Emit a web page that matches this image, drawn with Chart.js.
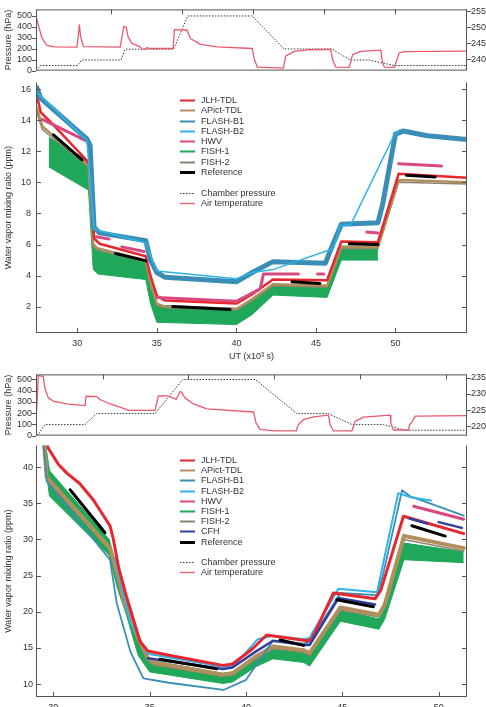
<!DOCTYPE html>
<html>
<head>
<meta charset="utf-8">
<script src="https://cdn.jsdelivr.net/npm/chart.js@4.4.1/dist/chart.umd.min.js"></script>
<style>
  body { margin: 0; background: #fff; width: 486px; height: 707px; overflow: hidden; position: relative; }
  canvas { position: absolute; left: 0; }
</style>
</head>
<body>
<canvas id="p1" width="486" height="80" style="top:0px"></canvas>
<canvas id="m1" width="486" height="300" style="top:72px"></canvas>
<canvas id="p2" width="486" height="80" style="top:365px"></canvas>
<canvas id="m2" width="486" height="270" style="top:437px"></canvas>
<script>
// tick values
const X_TICKS_P1 = [30, 35, 40, 45, 50, 55];
const X_TICKS_P2 = [30, 35, 40, 45, 50];
const UT_TICKS = [30, 35, 40, 45, 50];
const P_TICKS = [0, 100, 200, 300, 400, 500];
const T_TICKS_1 = [240, 245, 250, 255];
const T_TICKS_2 = [220, 225, 230, 235];
const H2O_TICKS_1 = [2, 4, 6, 8, 10, 12, 14, 16];
const H2O_TICKS_2 = [10, 15, 20, 25, 30, 35, 40];

// legend names
const NAMES_1 = ['JLH-TDL', 'APict-TDL', 'FLASH-B1', 'FLASH-B2', 'HWV', 'FISH-1', 'FISH-2', 'Reference'];
const NAMES_2 = ['JLH-TDL', 'APict-TDL', 'FLASH-B1', 'FLASH-B2', 'HWV', 'FISH-1', 'FISH-2', 'CFH', 'Reference'];
const NAMES_ENV = ['Chamber pressure', 'Air temperature'];

// ---- run 1: chamber conditions [time, value]
const chamberP1 = [[24.7,5],[24.98,46],[27.62,46],[27.93,97],[30.69,97],[30.99,196],[34.41,196],[35.4,500],[39.95,500],[42.19,198],[45.56,198],[46.86,97],[48.2,97],[49.97,46],[55.1,46]];
const airT1 = [[24.7,253.5],[24.85,251],[25.1,246.9],[25.46,244.4],[26.0,243.9],[27.58,243.8],[27.7,248],[27.76,250.8],[27.85,247],[28.05,244],[30.64,243.8],[30.8,248],[30.9,250.3],[31.06,250],[31.2,247],[31.47,245],[32.05,243.9],[32.17,243.1],[32.4,243.1],[32.53,243.7],[32.7,243.4],[34.37,243.4],[34.46,249.3],[35.36,249.1],[35.59,246.5],[36.3,244.7],[37.48,243.9],[39.95,243.4],[40.1,240],[40.31,237.6],[42.15,237.3],[42.31,241],[42.9,242.5],[43.84,243.0],[45.49,243.1],[45.61,240],[45.85,237.6],[46.79,237.5],[47.03,241.5],[47.61,242.5],[49.03,242.9],[49.1,240],[49.26,237.6],[49.97,237.5],[50.32,242.0],[50.68,242.4],[55.1,242.6]];

// ---- run 1: water vapour [UT, ppm]
const ref1 = [[28.5,13.05],[30.3,11.45],[30.3,null],[32.4,5.42],[34.3,4.95],[34.3,null],[36.0,2.02],[39.6,1.82],[39.6,null],[43.5,3.6],[45.25,3.5],[45.25,null],[47.1,6.05],[48.9,6.0],[48.9,null],[50.7,10.45],[52.5,10.35]];
const jlh1 = [[27.45,15.6],[27.7,14.5],[28.3,13.9],[30.6,11.4],[30.8,11.1],[31.05,6.4],[31.4,6.05],[34.3,5.25],[34.6,4.0],[35.0,2.7],[35.5,2.4],[40.0,2.2],[41.0,2.8],[42.3,3.75],[45.7,3.7],[46.6,6.2],[48.9,6.15],[50.2,10.55],[54.5,10.3]];
const apict1 = [[27.45,14.8],[27.8,13.6],[30.7,11.1],[31.0,6.0],[31.3,5.75],[34.3,5.0],[34.6,3.6],[35.0,2.2],[35.5,2.0],[40.0,1.85],[41.0,2.5],[42.3,3.45],[45.7,3.35],[46.6,5.85],[48.9,5.85],[50.2,10.15],[54.5,10.0]];
const flashB1_1 = [[27.45,16.1],[27.7,15.4],[30.6,12.8],[30.8,12.4],[31.05,7.1],[31.4,6.75],[34.3,6.25],[34.6,5.0],[35.0,4.2],[35.5,3.9],[40.0,3.6],[41.0,4.2],[42.3,4.9],[45.6,4.8],[45.9,5.6],[46.6,7.3],[48.9,7.4],[49.2,8.6],[50.0,13.1],[50.5,13.3],[52.0,13.0],[54.5,12.75]];
const flashB2_1 = [[27.45,15.8],[30.6,12.7],[31.05,7.0],[34.3,6.1],[35.0,4.3],[40.0,3.8],[41.0,4.2],[42.35,4.4],[46.1,5.75],[46.5,7.2],[47.2,7.3],[49.9,13.0],[50.3,13.4]];
const hwv1 = [[27.8,14.05],[30.5,12.7],[30.5,null],[31.2,6.5],[32.0,6.35],[32.0,null],[32.8,5.85],[34.2,5.55],[34.2,null],[35.0,2.6],[40.0,2.35],[41.5,3.15],[41.7,4.1],[43.9,4.1],[43.9,null],[45.1,4.1],[45.5,4.1],[45.5,null],[48.2,6.8],[48.9,6.75],[48.9,null],[50.2,11.2],[52.9,11.05]];
const fish1Hi1 = [[28.2,12.9],[30.7,11.4],[31.0,5.8],[31.3,5.6],[34.3,4.8],[34.6,3.2],[35.0,2.1],[40.0,1.9],[41.0,2.4],[42.3,3.45],[45.7,3.35],[46.6,5.9],[48.9,5.9]];
const fish1Lo1 = [[28.2,11.0],[30.7,9.5],[31.0,4.4],[31.3,4.1],[34.3,3.75],[34.6,2.2],[35.0,1.0],[40.0,0.85],[41.0,1.5],[42.3,2.75],[45.7,2.6],[46.6,5.0],[48.9,5.0]];
const fish2_1 = [[27.45,14.5],[27.8,13.4],[30.7,11.0],[31.0,5.9],[31.3,5.65],[34.3,4.9],[34.6,3.5],[35.0,2.1],[35.5,1.95],[40.0,1.8],[41.0,2.4],[42.3,3.35],[45.7,3.25],[46.6,5.75],[48.9,5.75],[50.2,10.0],[54.5,9.9]];

// ---- run 2: chamber conditions
const chamberP2 = [[26.15,0],[26.24,10],[26.63,98],[28.97,98],[29.65,196],[33.05,196],[34.67,500],[38.89,500],[41.32,196],[43.16,196],[44.53,98],[46.37,98],[47.64,48],[51.24,48]];
const airT2 = [[26.15,224.9],[26.24,235.7],[26.53,235.5],[26.63,231.8],[26.83,228.8],[27.12,227.8],[27.9,226.9],[28.97,226.4],[29.03,229.3],[29.65,229.2],[29.84,228.3],[30.43,226.9],[31.01,225.9],[31.5,224.9],[33.05,224.9],[33.24,229.3],[33.7,229.5],[34.12,228.8],[34.28,228.3],[34.51,230.8],[34.6,230.5],[34.8,228.8],[35.29,226.9],[36.07,225.4],[38.79,224.4],[38.94,221],[39.18,219.0],[40.0,218.5],[41.28,218.5],[41.41,220.5],[41.7,222.0],[42.29,222.9],[43.16,223.4],[43.26,220.5],[43.45,218.5],[44.53,218.5],[44.72,221.5],[45.2,222.8],[46.76,223.4],[46.8,221],[46.95,218.8],[47.83,218.8],[47.89,220.5],[48.0,221.0],[48.22,223.1],[51.24,223.3]];

// ---- run 2: water vapour
const ref2 = [[30.87,36.87],[32.68,30.92],[32.68,null],[35.54,13.45],[38.48,12.12],[38.48,null],[41.77,16.12],[42.98,15.36],[42.98,null],[44.71,21.67],[46.61,20.7],[46.61,null],[48.61,31.9],[50.34,30.47]];
const jlh2 = [[29.6,44],[29.74,42.6],[30.26,40.4],[30.69,39.2],[31.38,37.7],[32.08,35.45],[32.94,31.9],[33.11,30.1],[33.4,26.0],[33.8,22.1],[34.5,15.9],[34.9,14.6],[36.0,14.0],[38.8,12.6],[39.3,12.8],[40.3,14.8],[41.07,16.8],[43.15,16.0],[43.4,16.2],[44.54,22.6],[46.7,21.8],[47.0,23.0],[48.17,33.2],[51.3,30.8]];
const apict2 = [[29.5,44],[29.66,38.6],[32.94,28.8],[33.3,25.5],[33.7,21.2],[34.3,17.0],[34.9,13.6],[35.2,13.0],[38.8,11.3],[39.3,11.5],[40.5,13.8],[41.4,15.2],[43.0,14.7],[43.3,14.3],[44.9,20.6],[46.9,19.6],[47.2,21.0],[48.2,30.5],[51.3,28.8]];
const flashB1_2 = [[29.45,44],[29.66,38.0],[32.94,27.2],[33.29,21.2],[34.0,14.5],[34.67,10.8],[36.0,10.2],[38.83,9.2],[40.0,10.6],[41.4,16.0],[43.0,15.6],[43.3,15.8],[44.9,22.6],[46.8,22.3],[47.1,25.0],[48.1,36.8],[48.5,36.0],[51.3,33.3]];
const flashB2_2 = [[33.2,27.5],[34.0,18.5],[34.9,14.2],[38.8,12.4],[39.4,12.6],[40.6,16.2],[41.4,16.7],[43.0,16.2],[43.3,16.4],[44.8,23.2],[46.8,22.7],[47.9,36.4],[48.6,35.8],[49.6,35.4]];
const hwv2 = [[48.7,34.6],[51.3,32.8]];
const fish1Hi2 = [[29.55,44],[29.8,39.5],[32.9,30.0],[33.3,26.0],[33.8,21.5],[34.4,16.5],[35.0,13.3],[38.8,11.5],[39.3,11.7],[40.5,14.0],[41.4,15.0],[43.0,14.5],[43.3,14.0],[44.9,20.3],[46.9,19.0],[47.2,20.5],[48.2,29.5],[51.3,28.3]];
const fish1Lo2 = [[29.55,41],[29.8,36.0],[32.9,27.8],[33.3,23.5],[33.8,19.5],[34.4,14.0],[35.0,11.7],[38.8,10.1],[39.3,10.3],[40.5,12.4],[41.4,13.5],[43.0,13.0],[43.3,12.5],[44.9,18.7],[46.9,17.6],[47.2,19.0],[48.2,27.2],[51.3,26.8]];
const fish2_2 = [[29.5,43.5],[29.66,38.2],[32.94,28.5],[33.3,25.2],[33.7,21.0],[34.3,16.7],[34.9,13.3],[35.2,12.7],[38.8,11.1],[39.3,11.3],[40.5,13.5],[41.4,14.9],[43.0,14.4],[43.3,14.0],[44.9,20.2],[46.9,19.3],[47.2,20.7],[48.2,30.0],[51.3,28.4]];
const cfh2 = [[34.9,13.6],[38.8,12.1],[39.3,12.3],[40.5,14.5],[41.4,16.0],[43.0,15.4],[43.3,15.4],[44.8,21.9],[46.7,21.0],[46.7,null],[48.5,32.9],[49.4,32.2],[49.4,null],[50.0,32.4],[51.2,31.6]];

const C = {
  jlh: '#e8262d', apict: '#b08f5c', b1: '#3a8db4', b2: '#2fb3e8', hwv: '#d9497f',
  fish1: '#1fa85a', fish2: '#8c8373', cfh: '#2f3f9c', ref: '#000000', press: '#333333', temp: '#ea5a6d'
};

Chart.defaults.font.family = '"Liberation Sans", Arial, sans-serif';
Chart.defaults.font.size = 9;
Chart.defaults.color = '#333';

const xy = a => a.map(p => ({ x: p[0], y: p[1] }));

function ln(label, data, color, width, more) {
  return Object.assign({
    label, data: xy(data), borderColor: color, backgroundColor: color, borderWidth: width,
    pointRadius: 0, tension: 0, spanGaps: false, fill: false,
    borderJoinStyle: 'round', borderCapStyle: 'round'
  }, more || {});
}

function fixTicks(vals) {
  return s => { s.ticks = vals.map(v => ({ value: v })); };
}

function yScale(pos, min, max, vals, width, pad, title) {
  return {
    type: 'linear', position: pos, min, max,
    afterBuildTicks: fixTicks(vals),
    afterFit: s => { s.width = width; },
    grid: { display: false, drawTicks: false },
    border: { display: false },
    ticks: { padding: pad, font: { size: 9 }, color: '#333', autoSkip: false },
    title: title ? { display: true, text: title, font: { size: 9 }, color: '#333', padding: { top: 3, bottom: 0 } } : { display: false }
  };
}

function xScale(min, max, vals, show, height, title) {
  return {
    type: 'linear', position: 'bottom', min, max, display: show,
    afterBuildTicks: fixTicks(vals),
    afterFit: s => { s.height = height; },
    grid: { display: false, drawTicks: false },
    border: { display: false },
    ticks: { padding: 5, font: { size: 9 }, color: '#333', maxRotation: 0, autoSkip: false },
    title: title ? { display: true, text: title, font: { size: 9 }, color: '#333', padding: { top: 0, bottom: 10 } } : { display: false }
  };
}

// box and inward/outward tick marks
const frame = {
  id: 'frame',
  afterDatasetsDraw(chart, args, o) {
    const { ctx, chartArea: a } = chart;
    ctx.save();
    ctx.strokeStyle = '#555';
    ctx.lineWidth = 1;
    ctx.beginPath();
    if (o.top) { ctx.moveTo(a.left + 0.5, a.top + 0.5); ctx.lineTo(a.right - 0.5, a.top + 0.5); }
    ctx.moveTo(a.left + 0.5, a.top); ctx.lineTo(a.left + 0.5, a.bottom);
    ctx.moveTo(a.right - 0.5, a.top); ctx.lineTo(a.right - 0.5, a.bottom);
    ctx.moveTo(a.left, a.bottom - 0.5); ctx.lineTo(a.right, a.bottom - 0.5);
    ctx.stroke();
    (o.marks || []).forEach(m => {
      const s = chart.scales[m.axis];
      m.vals.forEach(v => {
        const p = Math.round(s.getPixelForValue(v)) + 0.5;
        ctx.beginPath();
        if (m.side === 'top') { ctx.moveTo(p, a.top); ctx.lineTo(p, a.top + m.len); }
        else if (m.side === 'bottom') { ctx.moveTo(p, a.bottom); ctx.lineTo(p, a.bottom - m.len); }
        else if (m.side === 'left') { ctx.moveTo(a.left, p); ctx.lineTo(a.left + m.len, p); }
        else { ctx.moveTo(a.right, p); ctx.lineTo(a.right - m.len, p); }
        ctx.stroke();
      });
    });
    ctx.restore();
  }
};

const legendBox = {
  id: 'legendBox',
  afterDraw(chart, args, o) {
    if (!o.items) return;
    const ctx = chart.ctx;
    ctx.save();
    ctx.font = '9px "Liberation Sans", Arial, sans-serif';
    ctx.textBaseline = 'middle';
    let y = o.y;
    o.items.forEach(it => {
      if (it.gap) { y += o.step; return; }
      ctx.strokeStyle = it.color;
      ctx.lineWidth = it.width;
      ctx.setLineDash(it.dash || []);
      ctx.beginPath();
      ctx.moveTo(o.x, Math.round(y) + 0.5);
      ctx.lineTo(o.x + 15, Math.round(y) + 0.5);
      ctx.stroke();
      ctx.setLineDash([]);
      ctx.fillStyle = '#333';
      ctx.fillText(it.text, o.x + 21, y + 0.5);
      y += o.step;
    });
    ctx.restore();
  }
};

function baseOpts(scales, padding, pluginOpts) {
  return {
    responsive: false, animation: false, devicePixelRatio: 1, events: [],
    layout: { padding, autoPadding: false },
    scales,
    plugins: Object.assign({ legend: { display: false }, tooltip: { enabled: false } }, pluginOpts)
  };
}

function envDatasets(press, temp) {
  return [
    ln('Air temperature', temp, C.temp, 1.3, { yAxisID: 'y2' }),
    ln('Chamber pressure', press, C.press, 1, { yAxisID: 'y', borderDash: [1.5, 1.5], borderCapStyle: 'butt' })
  ];
}

const styleOf = {
  'JLH-TDL': [C.jlh, 2], 'APict-TDL': [C.apict, 2], 'FLASH-B1': [C.b1, 2], 'FLASH-B2': [C.b2, 2],
  'HWV': [C.hwv, 2], 'FISH-1': [C.fish1, 2], 'FISH-2': [C.fish2, 2], 'CFH': [C.cfh, 2], 'Reference': [C.ref, 3]
};
function legendItems(names) {
  const items = names.map(n => ({ text: n, color: styleOf[n][0], width: styleOf[n][1] }));
  items.push({ gap: true });
  items.push({ text: NAMES_ENV[0], color: C.press, width: 1, dash: [1.5, 1.5] });
  items.push({ text: NAMES_ENV[1], color: C.temp, width: 1.3 });
  return items;
}

// ---- panel 1: chamber conditions, run 1
new Chart(document.getElementById('p1'), {
  type: 'line',
  data: { datasets: envDatasets(chamberP1, airT1) },
  options: baseOpts({
    x: xScale(24.7, 55.1, X_TICKS_P1, false, 0),
    y: yScale('left', 0, 560, P_TICKS, 36, 4, 'Pressure (hPa)'),
    y2: yScale('right', 236.5, 255.6, T_TICKS_1, 19, 4)
  }, { top: 7, bottom: 8, left: 0, right: 0 }, {
    frame: { top: true, marks: [
      { axis: 'x', vals: X_TICKS_P1, side: 'top', len: 5 },
      { axis: 'y', vals: P_TICKS, side: 'left', len: -4 },
      { axis: 'y2', vals: T_TICKS_1, side: 'right', len: -4 }
    ] }
  }),
  plugins: [frame]
});

// ---- panel 2: water vapour, run 1
new Chart(document.getElementById('m1'), {
  type: 'line',
  data: { datasets: [
    ln('Reference', ref1, C.ref, 3),
    ln('FLASH-B2', flashB2_1, C.b2, 1.5),
    ln('FLASH-B1', flashB1_1, C.b1, 5),
    ln('HWV', hwv1, C.hwv, 3),
    ln('JLH-TDL', jlh1, C.jlh, 2.5),
    ln('APict-TDL', apict1, C.apict, 2.5),
    ln('FISH-2', fish2_1, C.fish2, 1.5),
    ln('FISH-1', fish1Hi1, C.fish1, 1, { fill: '+1' }),
    ln('FISH-1 low', fish1Lo1, C.fish1, 1)
  ] },
  options: baseOpts({
    x: xScale(27.4, 54.5, UT_TICKS, true, 39, 'UT (x10³ s)'),
    y: yScale('left', 0.31, 16.43, H2O_TICKS_1, 36, 5, 'Water vapor mixing ratio (ppm)')
  }, { top: 0, bottom: 0, left: 0, right: 19 }, {
    frame: { top: false, marks: [
      { axis: 'x', vals: UT_TICKS, side: 'bottom', len: 5 },
      { axis: 'y', vals: H2O_TICKS_1, side: 'left', len: 5 },
      { axis: 'y', vals: H2O_TICKS_1, side: 'right', len: 5 }
    ] },
    legendBox: { x: 180, y: 28, step: 10.3, items: legendItems(NAMES_1) }
  }),
  plugins: [frame, legendBox]
});

// ---- panel 3: chamber conditions, run 2
new Chart(document.getElementById('p2'), {
  type: 'line',
  data: { datasets: envDatasets(chamberP2, airT2) },
  options: baseOpts({
    x: xScale(26.11, 51.24, X_TICKS_P2, false, 0),
    y: yScale('left', 0, 545, P_TICKS, 36, 4, 'Pressure (hPa)'),
    y2: yScale('right', 217.06, 236.1, T_TICKS_2, 19, 4)
  }, { top: 7, bottom: 8, left: 0, right: 0 }, {
    frame: { top: true, marks: [
      { axis: 'x', vals: X_TICKS_P2, side: 'top', len: 5 },
      { axis: 'y', vals: P_TICKS, side: 'left', len: -4 },
      { axis: 'y2', vals: T_TICKS_2, side: 'right', len: -4 }
    ] }
  }),
  plugins: [frame]
});

// ---- panel 4: water vapour, run 2
new Chart(document.getElementById('m2'), {
  type: 'line',
  data: { datasets: [
    ln('Reference', ref2, C.ref, 3),
    ln('CFH', cfh2, C.cfh, 2.5),
    ln('HWV', hwv2, C.hwv, 3),
    ln('JLH-TDL', jlh2, C.jlh, 3),
    ln('FLASH-B2', flashB2_2, C.b2, 2),
    ln('FLASH-B1', flashB1_2, C.b1, 1.8),
    ln('APict-TDL', apict2, C.apict, 4),
    ln('FISH-2', fish2_2, C.fish2, 1.5),
    ln('FISH-1', fish1Hi2, C.fish1, 1, { fill: '+1' }),
    ln('FISH-1 low', fish1Lo2, C.fish1, 1)
  ] },
  options: baseOpts({
    x: xScale(29.1, 51.47, UT_TICKS, true, 10),
    y: yScale('left', 8.23, 43.0, H2O_TICKS_2, 36, 3, 'Water vapor mixing ratio (ppm)')
  }, { top: 0, bottom: 0, left: 0, right: 19 }, {
    frame: { top: false, marks: [
      { axis: 'x', vals: UT_TICKS, side: 'bottom', len: 5 },
      { axis: 'y', vals: H2O_TICKS_2, side: 'left', len: 5 },
      { axis: 'y', vals: H2O_TICKS_2, side: 'right', len: 5 }
    ] },
    legendBox: { x: 180, y: 23, step: 10.2, items: legendItems(NAMES_2) }
  }),
  plugins: [frame, legendBox]
});
</script>
</body>
</html>
